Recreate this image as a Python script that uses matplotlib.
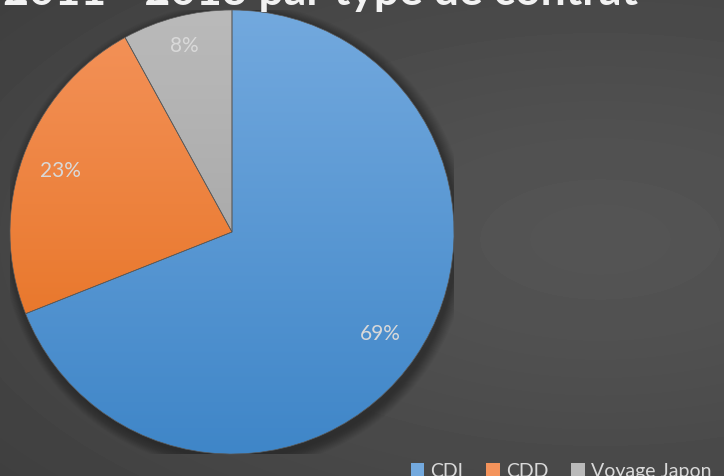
import numpy as np
import matplotlib.pyplot as plt
from matplotlib.colors import LinearSegmentedColormap
from matplotlib.patches import Circle

# données
categories = ["CDI", "CDD", "Voyage Japon"]
shares = [69, 23, 8]
pct_labels = ["69%", "23%", "8%"]
title = "2011 - 2013 par type de contrat"

plt.rcParams["font.family"] = ["Lato", "DejaVu Sans"]

W, H = 724, 477
fig = plt.figure(figsize=(W / 100, H / 100), dpi=100)

# fond gris foncé en dégradé radial
bg = fig.add_axes([0, 0, 1, 1])
bg.axis("off")
yy, xx = np.mgrid[0:H, 0:W]
d = np.sqrt(((xx - 600) / 600) ** 2 + ((yy - 240) / 300) ** 2 + 0.01)
shade = 0.335 - 0.065 * np.clip(d, 0, 1.4) ** 1.2
bg.imshow(shade, cmap="gray", vmin=0, vmax=1, aspect="auto", extent=(0, W, H, 0))

# axe du camembert (centre ~ (232, 233) px, rayon ~222 px)
ax = fig.add_axes([10 / W, (H - 233 - 222) / H, 444 / W, 444 / H])
ax.axis("off")

# ombre douce
for i in range(16):
    ax.add_patch(Circle((0.015, -0.02), 1.0 + i * 0.0035, color="black",
                        alpha=0.02, lw=0, zorder=0))

wedges, _ = ax.pie(shares, startangle=90, counterclock=False, radius=1,
                   wedgeprops=dict(linewidth=0.5, edgecolor="#5a5a5a",
                                   facecolor="none", zorder=3))

# dégradé vertical dans chaque part
grads = [("#73a9de", "#3f86c8"), ("#f4935b", "#e46c18"), ("#bababa", "#9c9c9c")]
g = np.linspace(0, 1, 256).reshape(-1, 1)
for w, (top, bot) in zip(wedges, grads):
    cm = LinearSegmentedColormap.from_list("", [top, bot])
    im = ax.imshow(g, cmap=cm, extent=(-1, 1, -1, 1), aspect="auto", zorder=2)
    im.set_clip_path(w)

# étiquettes de pourcentage
dist = [0.81, 0.82, 0.87]
start = 90.0
for s, lbl, r in zip(shares, pct_labels, dist):
    mid = np.deg2rad(start - s * 3.6 / 2)
    start -= s * 3.6
    ax.text(r * np.cos(mid), r * np.sin(mid), lbl, ha="center", va="center",
            color="#d9d9d9", fontsize=15, zorder=5)

ax.set_xlim(-1, 1)
ax.set_ylim(-1, 1)
ax.set_aspect("auto")

# titre (coupé en haut dans l'image d'origine)
fig.text(638 / W, 1 - 5 / H, title, ha="right", va="baseline", fontsize=32,
         weight="bold", color="#f2f2f2")

# légende
fig.legend(wedges, categories, loc="lower left", bbox_to_anchor=(393 / W, -21 / H),
           ncol=3, frameon=False, fontsize=14, labelcolor="#d9d9d9",
           handlelength=0.7, handleheight=0.7, handletextpad=0.3,
           columnspacing=1.2)
for h, (top, bot) in zip(fig.legends[0].legend_handles, grads):
    h.set_facecolor(top)
    h.set_edgecolor("none")

fig.savefig("out.png", dpi=100)
